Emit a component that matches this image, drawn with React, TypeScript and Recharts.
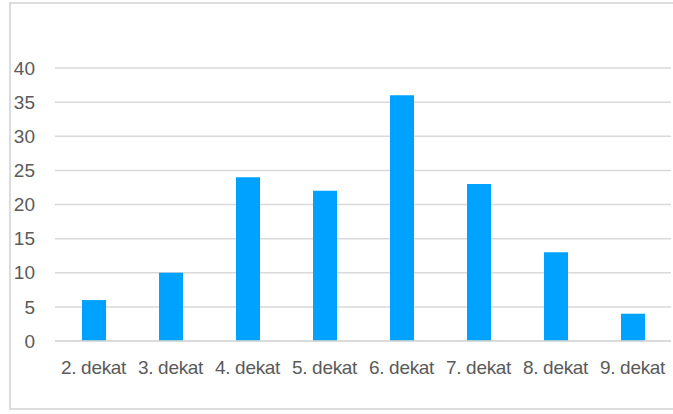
import { BarChart, Bar, XAxis, YAxis, CartesianGrid } from 'recharts';

const categories = ['2. dekat', '3. dekat', '4. dekat', '5. dekat', '6. dekat', '7. dekat', '8. dekat', '9. dekat'];
const values = [6, 10, 24, 22, 36, 23, 13, 4];
const yTicks = [0, 5, 10, 15, 20, 25, 30, 35, 40];

const data = categories.map((name, i) => ({ name, value: values[i] }));

const textStyle = { fill: '#5a5a5a', fontSize: 19, fontFamily: 'Liberation Sans, Arial, sans-serif' };

export default function App() {
  return (
    <div style={{ position: 'relative', width: 673, height: 414, background: '#fff', overflow: 'hidden' }}>
      <style>{'body{margin:0}'}</style>
      <div
        style={{
          position: 'absolute',
          left: 9,
          top: 2,
          width: 680,
          height: 408,
          border: '2px solid #dcdcdc',
          boxSizing: 'border-box',
        }}
      />
      <BarChart
        width={673}
        height={414}
        data={data}
        margin={{ top: 68, right: 2, left: 0, bottom: 43 }}
        style={{ position: 'absolute', left: 0, top: 0 }}
      >
        <CartesianGrid vertical={false} stroke="#d9d9d9" strokeWidth={1.5} />
        <XAxis
          dataKey="name"
          height={30}
          axisLine={{ stroke: '#d9d9d9', strokeWidth: 1.5 }}
          tickLine={false}
          tickSize={0}
          tickMargin={20}
          interval={0}
          tick={{ ...textStyle, letterSpacing: -0.3 }}
        />
        <YAxis
          width={55}
          domain={[0, 40]}
          ticks={yTicks}
          axisLine={false}
          tickLine={false}
          tickSize={0}
          tickMargin={20}
          tick={textStyle}
        />
        <Bar dataKey="value" fill="#00a2ff" barSize={24} isAnimationActive={false} />
      </BarChart>
    </div>
  );
}
